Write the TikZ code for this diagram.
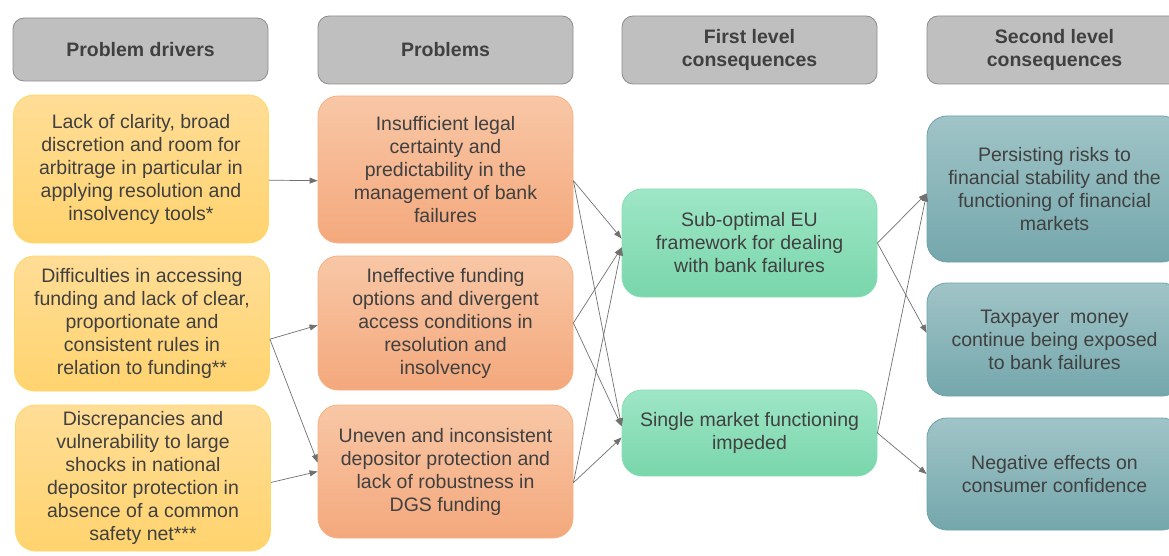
\documentclass[tikz,border=0pt]{standalone}
\usepackage{fontspec}
\setmainfont{Liberation Sans}
\usetikzlibrary{arrows.meta}
\definecolor{TextGray}{HTML}{404040}
\definecolor{LineGray}{HTML}{707070}
\tikzset{%
  box/.style={%
    rectangle,
    rounded corners=20,
    minimum width=255,
    line width=0.8pt,
    align=center,
    text=TextGray,
    font={\fontsize{19.5}{23}\selectfont}%
  },
  header/.style={%
    box,
    rounded corners=11,
    draw=HeadBorder,
    fill=HeadFill,
    font={\fontsize{19.5}{23}\selectfont\bfseries}%
  },
  driver/.style={%
    box,
    draw=DriverBorder,
    top color=DriverTop,
    bottom color=DriverBottom
  },
  problem/.style={%
    box,
    draw=ProblemBorder,
    top color=ProblemTop,
    bottom color=ProblemBottom
  },
  firstcons/.style={%
    box,
    draw=FirstBorder,
    top color=FirstTop,
    bottom color=FirstBottom
  },
  secondcons/.style={%
    box,
    draw=SecondBorder,
    top color=SecondTop,
    bottom color=SecondBottom
  },
  signal/.style={%
    color=LineGray,
    line width=0.7pt
  },
  arrow/.style={-{Triangle[length=8pt, width=6pt]}}
}
\definecolor{HeadFill}{HTML}{BFBFBF}
\definecolor{HeadBorder}{HTML}{8C8C8C}
\definecolor{DriverTop}{HTML}{FFDD96}
\definecolor{DriverBottom}{HTML}{FFD36E}
\definecolor{DriverBorder}{HTML}{FFD966}
\definecolor{ProblemTop}{HTML}{F8C7A6}
\definecolor{ProblemBottom}{HTML}{F4A87C}
\definecolor{ProblemBorder}{HTML}{F4B183}
\definecolor{FirstTop}{HTML}{9EE6C6}
\definecolor{FirstBottom}{HTML}{79D6AB}
\definecolor{FirstBorder}{HTML}{86DDB6}
\definecolor{SecondTop}{HTML}{A0C4C7}
\definecolor{SecondBottom}{HTML}{74A7AC}
\definecolor{SecondBorder}{HTML}{6FA2A7}

\begin{document}
\begin{tikzpicture}[x=1pt, y=-1pt]
    \useasboundingbox (0,0) rectangle (1169,556);
    \clip (0,0) rectangle (1169,556);

    % column headers
    \node [header, minimum height=63] (DriversHead) at (140.5, 49.5) {Problem drivers};
    \node [header, minimum height=68] (ProblemsHead) at (445.5, 50) {Problems};
    \node [header, minimum height=68] (FirstHead) at (749.5, 50) {First level\\consequences};
    \node [header, minimum height=68] (SecondHead) at (1054.5, 50) {Second level\\consequences};

    % problem drivers
    \node [driver, minimum height=148] (Clarity) at (141, 169)
      {Lack of clarity, broad\\discretion and room for\\arbitrage in particular in\\applying resolution and\\insolvency tools*};
    \node [driver, minimum height=135] (Funding) at (142, 323.5)
      {Difficulties in accessing\\funding and lack of clear,\\proportionate and\\consistent rules in\\relation to funding**};
    \node [driver, minimum height=146] (Shocks) at (143, 478)
      {Discrepancies and\\vulnerability to large\\shocks in national\\depositor protection in\\absence of a common\\safety net***};

    % problems
    \node [problem, minimum height=147] (Legal) at (445.5, 169.5)
      {Insufficient legal\\certainty and\\predictability in the\\management of bank\\failures};
    \node [problem, minimum height=134] (Options) at (445.5, 323)
      {Ineffective funding\\options and divergent\\access conditions in\\resolution and\\insolvency};
    \node [problem, minimum height=133] (Depositor) at (445.5, 471.5)
      {Uneven and inconsistent\\depositor protection and\\lack of robustness in\\DGS funding};

    % first level consequences
    \node [firstcons, minimum height=108] (Framework) at (749.5, 243)
      {Sub-optimal EU\\framework for dealing\\with bank failures};
    \node [firstcons, minimum height=86] (Market) at (749.5, 433)
      {Single market functioning\\impeded};

    % second level consequences
    \node [secondcons, minimum height=146] (Stability) at (1054.5, 189)
      {Persisting risks to\\financial stability and the\\functioning of financial\\markets};
    \node [secondcons, minimum height=113] (Taxpayer) at (1054.5, 339.5)
      {Taxpayer\ \ money\\continue being exposed\\to bank failures};
    \node [secondcons, minimum height=112] (Confidence) at (1054.5, 474)
      {Negative effects on\\consumer confidence};

    % drivers to problems
    \draw [arrow, signal] (Clarity.-5) -- (Legal.185);
    \draw [arrow, signal] (Funding.-7) -- (Options.181);
    \draw [arrow, signal] (Funding.-7) -- (Depositor.176);
    \draw [arrow, signal] (Shocks.-2) -- (Depositor.180);

    % problems to first level
    \draw [arrow, signal] (Legal.-5) -- (Framework.178);
    \draw [arrow, signal] (Legal.-5) -- (Market.177);
    \draw [arrow, signal] (Options.east) -- (Framework.182);
    \draw [arrow, signal] (Options.east) -- (Market.177);
    \draw [arrow, signal] (Depositor.-5) -- (Framework.182);
    \draw [arrow, signal] (Depositor.-5) -- (Market.182);

    % first level to second level
    \draw [arrow, signal] (Framework.east) -- (Stability.182);
    \draw [arrow, signal] (Framework.east) -- (Taxpayer.177);
    \draw [arrow, signal] (Market.east) -- (Stability.182);
    \draw [arrow, signal] (Market.east) -- (Confidence.west);
\end{tikzpicture}
\end{document}
